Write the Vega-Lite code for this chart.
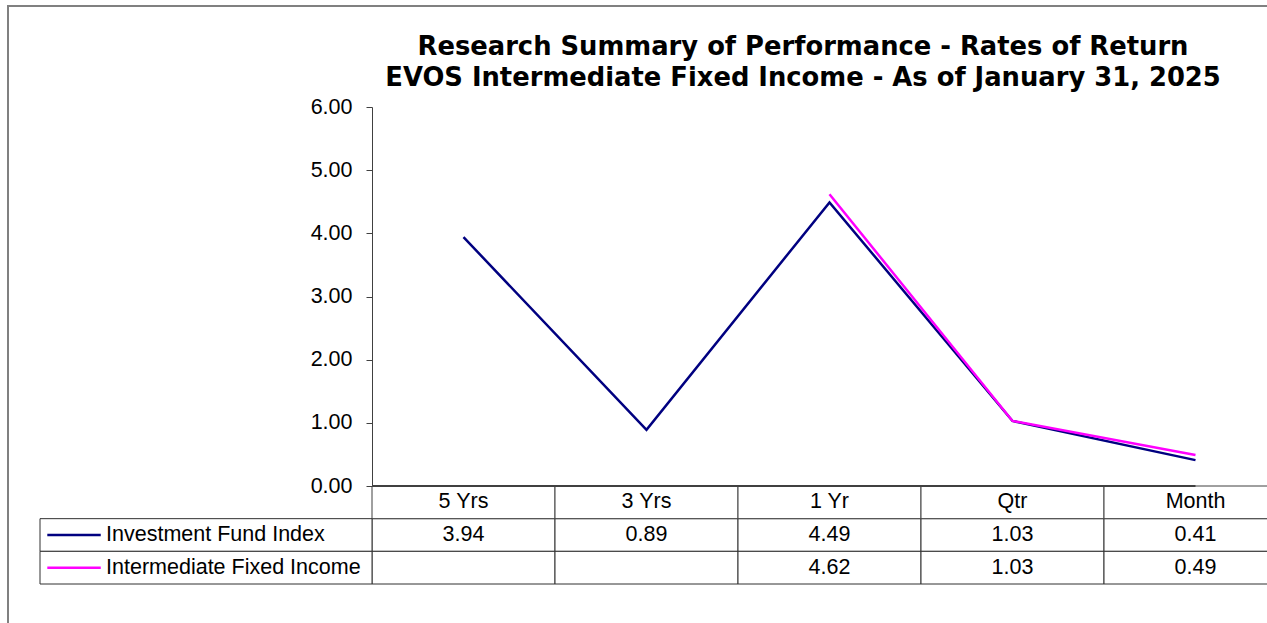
{
  "$schema": "https://vega.github.io/schema/vega-lite/v6.json",
  "width": 1299,
  "height": 657,
  "padding": {"left": 8, "top": 6, "right": -40, "bottom": -40},
  "autosize": {"type": "none"},
  "background": "white",
  "config": {
    "view": {"stroke": "#808080", "strokeWidth": 2},
    "font": "Liberation Sans",
    "text": {"font": "Liberation Sans", "fontSize": 21.5, "color": "black"}
  },
  "title": {
    "text": ["Research Summary of Performance - Rates of Return", "EVOS Intermediate Fixed Income - As of January 31, 2025"],
    "font": "DejaVu Sans",
    "fontSize": 25.8,
    "fontWeight": "bold",
    "color": "black",
    "anchor": "middle",
    "frame": "group",
    "baseline": "alphabetic",
    "lineHeight": 31.6,
    "offset": -50,
    "dx": 145.5,
    "dy": 56
  },
  "datasets": {
    "returns": [
      {"period": "5 Yrs", "Investment Fund Index": 3.94, "Intermediate Fixed Income": null},
      {"period": "3 Yrs", "Investment Fund Index": 0.89, "Intermediate Fixed Income": null},
      {"period": "1 Yr", "Investment Fund Index": 4.49, "Intermediate Fixed Income": 4.62},
      {"period": "Qtr", "Investment Fund Index": 1.03, "Intermediate Fixed Income": 1.03},
      {"period": "Month", "Investment Fund Index": 0.41, "Intermediate Fixed Income": 0.49}
    ],
    "seriesList": [
      {"series": "Investment Fund Index"},
      {"series": "Intermediate Fixed Income"}
    ]
  },
  "data": {"name": "returns"},
  "layer": [
    {
      "transform": [
        {"fold": ["Investment Fund Index", "Intermediate Fixed Income"], "as": ["series", "value"]},
        {"filter": "isValid(datum.value)"}
      ],
      "mark": {"type": "line", "strokeWidth": 2.5},
      "encoding": {
        "x": {
          "field": "period", "type": "ordinal",
          "scale": {"type": "point", "domain": ["5 Yrs", "3 Yrs", "1 Yr", "Qtr", "Month"], "range": [364, 1279], "padding": 0.5},
          "axis": null
        },
        "y": {
          "field": "value", "type": "quantitative",
          "scale": {"domain": [0, 6], "range": [480, 101], "nice": false, "zero": false},
          "axis": {
            "values": [0, 1, 2, 3, 4, 5, 6],
            "format": ".2f",
            "grid": false,
            "offset": -364,
            "tickSize": 6,
            "labelPadding": 14,
            "labelFont": "Liberation Sans",
            "labelFontSize": 21.5,
            "labelColor": "black",
            "domainColor": "#404040",
            "tickColor": "#404040",
            "title": null
          }
        },
        "color": {
          "field": "series", "type": "nominal",
          "scale": {"domain": ["Investment Fund Index", "Intermediate Fixed Income"], "range": ["#000080", "#FF00FF"]},
          "legend": null
        }
      }
    },
    {
      "encoding": {
        "x": {
          "field": "period", "type": "ordinal",
          "scale": {"type": "band", "domain": ["5 Yrs", "3 Yrs", "1 Yr", "Qtr", "Month"], "range": [364, 1279], "paddingInner": 0, "paddingOuter": 0},
          "axis": null
        }
      },
      "layer": [
        {
          "transform": [
            {"fold": ["Investment Fund Index", "Intermediate Fixed Income"], "as": ["series", "value"]}
          ],
          "mark": {"type": "rect", "fill": "white", "stroke": "#303030", "strokeWidth": 1},
          "encoding": {
            "y": {
              "field": "series", "type": "nominal",
              "scale": {"type": "band", "domain": ["header", "Investment Fund Index", "Intermediate Fixed Income"], "range": [480, 578], "paddingInner": 0, "paddingOuter": 0},
              "axis": null
            }
          }
        },
        {
          "mark": {"type": "rect", "fill": "white", "stroke": "#404040", "strokeWidth": 1},
          "encoding": {"y": {"datum": "header", "type": "nominal"}}
        },
        {
          "mark": {"type": "text", "align": "center", "baseline": "middle", "fontSize": 21.5},
          "encoding": {
            "y": {"datum": "header", "type": "nominal", "bandPosition": 0.5},
            "text": {"field": "period", "type": "nominal"}
          }
        },
        {
          "transform": [
            {"fold": ["Investment Fund Index", "Intermediate Fixed Income"], "as": ["series", "value"]},
            {"filter": "isValid(datum.value)"}
          ],
          "mark": {"type": "text", "align": "center", "baseline": "middle", "fontSize": 21.5},
          "encoding": {
            "y": {"field": "series", "type": "nominal", "bandPosition": 0.5},
            "text": {"field": "value", "type": "quantitative", "format": ".2f"}
          }
        },
        {
          "mark": {"type": "rule", "stroke": "#404040", "strokeWidth": 2},
          "encoding": {
            "y": {"datum": "header", "type": "nominal", "bandPosition": 0}
          }
        }
      ]
    },
    {
      "data": {"name": "seriesList"},
      "encoding": {
        "y": {
          "field": "series", "type": "nominal",
          "scale": {"type": "band", "domain": ["header", "Investment Fund Index", "Intermediate Fixed Income"], "range": [480, 578], "paddingInner": 0, "paddingOuter": 0},
          "axis": null
        }
      },
      "layer": [
        {
          "mark": {"type": "rect", "fill": "white", "stroke": "#303030", "strokeWidth": 1},
          "encoding": {
            "x": {"datum": 0, "type": "quantitative", "scale": {"domain": [0, 1], "range": [32, 364], "nice": false, "zero": false}, "axis": null},
            "x2": {"datum": 1}
          }
        },
        {
          "mark": {"type": "rule", "strokeWidth": 2.5},
          "encoding": {
            "x": {"datum": 0.022, "type": "quantitative"},
            "x2": {"datum": 0.183},
            "y": {"field": "series", "type": "nominal", "bandPosition": 0.5},
            "color": {"field": "series", "type": "nominal", "legend": null}
          }
        },
        {
          "mark": {"type": "text", "align": "left", "baseline": "middle", "fontSize": 21.5},
          "encoding": {
            "x": {"datum": 0.199, "type": "quantitative"},
            "y": {"field": "series", "type": "nominal", "bandPosition": 0.5},
            "text": {"field": "series", "type": "nominal"}
          }
        }
      ]
    }
  ],
  "resolve": {"scale": {"x": "independent", "y": "independent"}}
}
